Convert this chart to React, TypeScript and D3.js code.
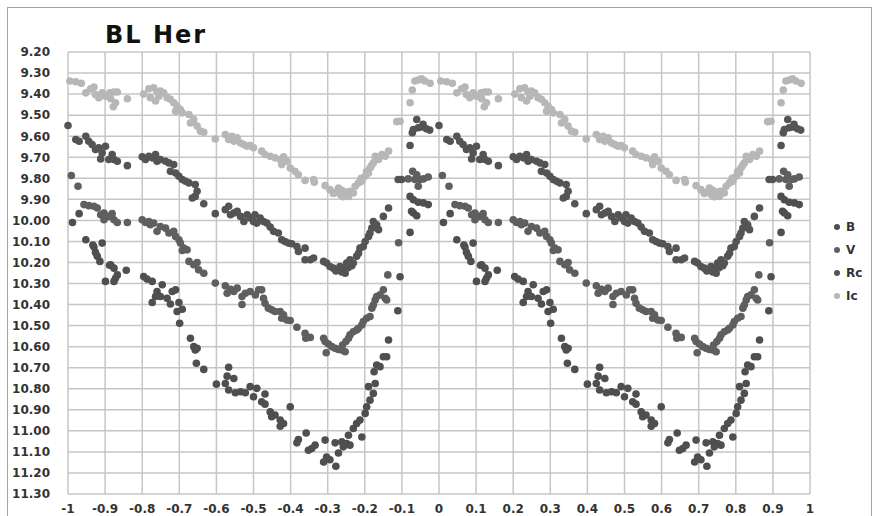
import React from "react";
import * as d3 from "d3";

// phase (0..1) and magnitude pairs; each is shown at phase-1 and phase
const icPoints: [number, number][] = [
  [0.005, 9.338], [0.021, 9.341], [0.036, 9.349], [0.048, 9.394], [0.061, 9.375], [0.07, 9.367],
  [0.074, 9.402], [0.083, 9.417], [0.092, 9.394], [0.101, 9.41], [0.113, 9.394], [0.124, 9.39],
  [0.133, 9.39], [0.115, 9.422], [0.128, 9.441], [0.122, 9.46], [0.16, 9.422], [0.204, 9.4],
  [0.218, 9.375], [0.231, 9.37], [0.24, 9.39], [0.249, 9.386], [0.258, 9.394], [0.222, 9.417],
  [0.236, 9.433], [0.245, 9.41], [0.267, 9.417], [0.276, 9.425], [0.285, 9.441], [0.294, 9.457],
  [0.29, 9.481], [0.303, 9.473], [0.308, 9.489], [0.326, 9.497], [0.33, 9.537], [0.339, 9.521],
  [0.348, 9.552], [0.357, 9.576], [0.366, 9.581], [0.397, 9.613], [0.424, 9.592], [0.433, 9.616],
  [0.442, 9.6], [0.447, 9.624], [0.456, 9.608], [0.465, 9.632], [0.474, 9.64], [0.483, 9.648],
  [0.491, 9.644], [0.5, 9.655], [0.522, 9.671], [0.531, 9.687], [0.545, 9.695], [0.558, 9.703],
  [0.572, 9.711], [0.581, 9.698], [0.576, 9.735], [0.59, 9.719], [0.599, 9.751], [0.612, 9.767],
  [0.621, 9.783], [0.639, 9.81], [0.662, 9.806], [0.664, 9.819], [0.693, 9.835], [0.706, 9.854],
  [0.715, 9.872], [0.72, 9.867], [0.729, 9.846], [0.735, 9.88], [0.738, 9.857], [0.742, 9.888],
  [0.747, 9.878], [0.75, 9.865], [0.756, 9.886], [0.76, 9.862], [0.769, 9.87], [0.774, 9.838],
  [0.783, 9.822], [0.79, 9.8], [0.792, 9.814], [0.801, 9.79], [0.805, 9.767], [0.81, 9.775],
  [0.814, 9.751], [0.818, 9.74], [0.823, 9.727], [0.828, 9.695], [0.837, 9.711], [0.846, 9.687],
  [0.855, 9.695], [0.864, 9.671], [0.886, 9.531], [0.895, 9.529], [0.922, 9.441], [0.928, 9.381],
  [0.935, 9.338], [0.944, 9.333], [0.953, 9.327], [0.962, 9.338], [0.976, 9.349],
];

const rcPoints: [number, number][] = [
  [0.0, 9.549], [0.021, 9.616], [0.03, 9.624], [0.048, 9.6], [0.056, 9.624], [0.065, 9.64],
  [0.074, 9.663], [0.083, 9.655], [0.092, 9.679], [0.088, 9.708], [0.101, 9.648], [0.11, 9.711],
  [0.119, 9.687], [0.124, 9.711], [0.133, 9.719], [0.16, 9.74], [0.2, 9.698], [0.209, 9.711],
  [0.218, 9.695], [0.227, 9.703], [0.236, 9.687], [0.24, 9.719], [0.249, 9.711], [0.263, 9.719],
  [0.272, 9.727], [0.285, 9.735], [0.276, 9.767], [0.29, 9.775], [0.299, 9.79], [0.308, 9.806],
  [0.317, 9.814], [0.326, 9.822], [0.343, 9.83], [0.348, 9.862], [0.343, 9.886], [0.335, 9.894],
  [0.366, 9.921], [0.397, 9.968], [0.424, 9.949], [0.433, 9.933], [0.438, 9.973], [0.447, 9.965],
  [0.456, 9.957], [0.465, 9.981], [0.474, 10.005], [0.483, 9.973], [0.491, 9.989], [0.5, 10.005],
  [0.509, 10.013], [0.504, 9.973], [0.518, 9.989], [0.527, 10.005], [0.536, 10.013], [0.545, 10.032],
  [0.554, 10.052], [0.567, 10.06], [0.576, 10.092], [0.585, 10.1], [0.594, 10.108], [0.603, 10.111],
  [0.617, 10.124], [0.621, 10.148], [0.639, 10.132], [0.639, 10.187], [0.653, 10.187], [0.662, 10.179],
  [0.689, 10.195], [0.697, 10.203], [0.706, 10.219], [0.715, 10.227], [0.722, 10.24], [0.729, 10.235],
  [0.733, 10.219], [0.738, 10.245], [0.742, 10.23], [0.747, 10.251], [0.751, 10.203], [0.755, 10.225],
  [0.76, 10.187], [0.765, 10.215], [0.769, 10.203], [0.778, 10.171], [0.783, 10.156], [0.787, 10.132],
  [0.796, 10.124], [0.801, 10.1], [0.81, 10.076], [0.814, 10.06], [0.819, 10.037], [0.823, 10.005],
  [0.832, 10.021], [0.837, 10.044], [0.85, 9.981], [0.864, 9.941], [0.89, 9.806], [0.899, 9.806],
  [0.922, 9.644], [0.928, 9.584], [0.931, 9.568], [0.94, 9.521], [0.944, 9.56], [0.953, 9.556],
  [0.957, 9.544], [0.966, 9.565], [0.975, 9.571],
];

const vPoints: [number, number][] = [
  [0.009, 9.787], [0.027, 9.838], [0.043, 9.925], [0.056, 9.93], [0.07, 9.933], [0.079, 9.941],
  [0.088, 9.973], [0.097, 9.965], [0.097, 9.997], [0.11, 9.981], [0.119, 9.968], [0.124, 9.997],
  [0.133, 10.01], [0.16, 10.01], [0.2, 9.997], [0.209, 10.01], [0.218, 10.005], [0.222, 10.021],
  [0.231, 10.013], [0.24, 10.052], [0.249, 10.029], [0.263, 10.037], [0.272, 10.06], [0.285, 10.052],
  [0.29, 10.076], [0.299, 10.092], [0.303, 10.108], [0.312, 10.132], [0.321, 10.14], [0.308, 10.143],
  [0.326, 10.195], [0.339, 10.211], [0.348, 10.2], [0.352, 10.235], [0.366, 10.251], [0.397, 10.298],
  [0.424, 10.311], [0.429, 10.346], [0.438, 10.327], [0.447, 10.338], [0.456, 10.322], [0.469, 10.4],
  [0.469, 10.362], [0.478, 10.346], [0.491, 10.338], [0.505, 10.354], [0.514, 10.33], [0.522, 10.33],
  [0.527, 10.37], [0.531, 10.394], [0.54, 10.417], [0.549, 10.425], [0.558, 10.433], [0.572, 10.433],
  [0.581, 10.449], [0.576, 10.465], [0.59, 10.473], [0.599, 10.476], [0.617, 10.508], [0.639, 10.537],
  [0.641, 10.56], [0.653, 10.556], [0.689, 10.56], [0.693, 10.576], [0.702, 10.587], [0.711, 10.6],
  [0.72, 10.608], [0.729, 10.613], [0.738, 10.616], [0.747, 10.624], [0.696, 10.629], [0.74, 10.592],
  [0.749, 10.576], [0.756, 10.56], [0.76, 10.544], [0.769, 10.529], [0.778, 10.521], [0.783, 10.513],
  [0.792, 10.497], [0.796, 10.481], [0.805, 10.465], [0.814, 10.457], [0.819, 10.417], [0.823, 10.402],
  [0.828, 10.378], [0.832, 10.362], [0.841, 10.354], [0.85, 10.33], [0.855, 10.37], [0.859, 10.378],
  [0.862, 10.259], [0.891, 10.106], [0.917, 9.803], [0.929, 9.767], [0.935, 9.806], [0.94, 9.783],
  [0.944, 9.838], [0.949, 9.806], [0.958, 9.803], [0.971, 9.794],
];

const bPoints: [number, number][] = [
  [0.012, 10.01], [0.03, 9.968], [0.048, 10.092], [0.067, 10.117], [0.07, 10.127], [0.074, 10.152],
  [0.079, 10.171], [0.086, 10.195], [0.092, 10.108], [0.101, 10.29], [0.112, 10.213], [0.115, 10.211],
  [0.124, 10.227], [0.133, 10.259], [0.128, 10.275], [0.124, 10.29], [0.157, 10.237], [0.204, 10.267],
  [0.213, 10.279], [0.227, 10.29], [0.254, 10.306], [0.24, 10.338], [0.236, 10.362], [0.249, 10.362],
  [0.227, 10.39], [0.267, 10.37], [0.281, 10.338], [0.29, 10.33], [0.276, 10.397], [0.299, 10.39],
  [0.294, 10.433], [0.308, 10.422], [0.301, 10.489], [0.33, 10.56], [0.339, 10.6], [0.348, 10.608],
  [0.343, 10.616], [0.346, 10.679], [0.366, 10.708], [0.4, 10.778], [0.433, 10.698], [0.429, 10.74],
  [0.447, 10.751], [0.424, 10.775], [0.433, 10.806], [0.451, 10.819], [0.465, 10.814], [0.478, 10.819],
  [0.491, 10.79], [0.5, 10.838], [0.509, 10.798], [0.531, 10.825], [0.522, 10.862], [0.531, 10.873],
  [0.545, 10.91], [0.558, 10.925], [0.549, 10.933], [0.572, 10.949], [0.581, 10.965], [0.572, 10.978],
  [0.599, 10.886], [0.617, 11.057], [0.621, 11.041], [0.642, 11.01], [0.648, 11.092], [0.657, 11.084],
  [0.666, 11.068], [0.693, 11.044], [0.689, 11.148], [0.697, 11.124], [0.706, 11.137], [0.72, 11.057],
  [0.722, 11.168], [0.729, 11.105], [0.738, 11.052], [0.742, 11.076], [0.751, 11.06], [0.756, 11.021],
  [0.76, 11.068], [0.769, 10.989], [0.778, 10.965], [0.787, 10.949], [0.792, 11.029], [0.801, 10.917],
  [0.805, 10.886], [0.814, 10.854], [0.81, 10.79], [0.823, 10.822], [0.828, 10.775], [0.825, 10.719],
  [0.832, 10.687], [0.841, 10.695], [0.85, 10.648], [0.859, 10.648], [0.864, 10.568], [0.889, 10.429],
  [0.895, 10.268], [0.922, 10.057], [0.926, 9.957], [0.931, 9.965], [0.94, 9.978], [0.922, 9.886],
  [0.931, 9.902], [0.944, 9.914], [0.958, 9.917], [0.971, 9.925],
];

const seriesNames = ["B", "V", "Rc", "Ic"];
const seriesColors = ["#4f4f4f", "#5f5f5f", "#545454", "#b7b7b7"];
const seriesData = [bPoints, vPoints, rcPoints, icPoints];

const xTicks = d3.range(-10, 11).map((i) => i / 10);
const yTicks = d3.range(92, 114).map((i) => i / 10);

export default function App() {
  const width = 878;
  const height = 516;
  const x = d3.scaleLinear().domain([-1, 1]).range([68, 810]);
  const y = d3.scaleLinear().domain([9.2, 11.3]).range([52, 494]);
  const fmtY = d3.format(".2f");
  const fmtX = (d: number) => String(Math.round(d * 10) / 10);
  const font = "'DejaVu Sans', Verdana, sans-serif";

  return (
    <svg
      width={width}
      height={height}
      style={{ position: "absolute", left: 0, top: 0, background: "#fff" }}
    >
      <rect x={7.5} y={7.5} width={864} height={530} fill="#fff" stroke="#a5a5a5" />
      <text x={105} y={43} fontFamily={font} fontWeight="bold" fontSize={24} letterSpacing={2} fill="#111">
        BL Her
      </text>

      {/* grid */}
      <g stroke="#c6c6c6" strokeWidth={1.5}>
        {xTicks.map((t) => (
          <line key={"vx" + t} x1={x(t)} x2={x(t)} y1={y(9.2)} y2={y(11.3)} />
        ))}
        {yTicks.map((t) => (
          <line key={"hy" + t} x1={x(-1)} x2={x(1)} y1={y(t)} y2={y(t)} />
        ))}
      </g>

      {/* axis labels */}
      <g fontFamily={font} fontWeight="bold" fontSize={12} fill="#333">
        {yTicks.map((t) => (
          <text key={"ly" + t} x={50} y={y(t)} dy="0.36em" textAnchor="end">
            {fmtY(t)}
          </text>
        ))}
        {xTicks.map((t) => (
          <text key={"lx" + t} x={x(t)} y={513} textAnchor="middle">
            {fmtX(t)}
          </text>
        ))}
      </g>

      {/* points, each phase shown in both cycles */}
      {seriesData.map((pts, si) => (
        <g key={seriesNames[si]} fill={seriesColors[si]}>
          {pts.flatMap(([p, m], i) =>
            [p - 1, p]
              .filter((ph) => ph >= -1 && ph <= 1)
              .map((ph) => <circle key={i + "_" + ph} cx={x(ph)} cy={y(m)} r={3.8} />)
          )}
        </g>
      ))}

      {/* legend */}
      <g fontFamily={font} fontWeight="bold" fontSize={12} fill="#333">
        {seriesNames.map((n, i) => (
          <g key={"lg" + n} transform={`translate(837, ${227 + i * 23})`}>
            <circle r={3} fill={seriesColors[i]} />
            <text x={9} dy="0.36em">
              {n}
            </text>
          </g>
        ))}
      </g>
    </svg>
  );
}
